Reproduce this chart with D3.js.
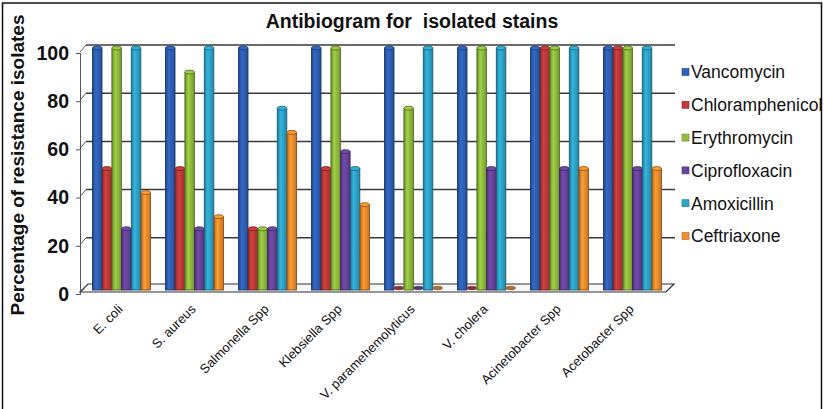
<!DOCTYPE html>
<html>
<head>
<meta charset="utf-8">
<script src="https://cdn.jsdelivr.net/npm/d3@7"></script>
<style>
  html, body { margin: 0; padding: 0; background: #fff; }
  svg { display: block; font-family: "Liberation Sans", Arial, sans-serif; }
</style>
</head>
<body>
<svg id="chart" width="824" height="409"></svg>
<script>
// Isolates and antibiotics tested
const categories = ["E. coli", "S. aureus", "Salmonella Spp", "Klebsiella Spp",
  "V. paramehemolyticus", "V. cholera", "Acinetobacter Spp", "Acetobacter Spp"];
const antibiotics = ["Vancomycin", "Chloramphenicol", "Erythromycin",
  "Ciprofloxacin", "Amoxicillin", "Ceftriaxone"];

// Percentage of resistant isolates, one array per antibiotic (in category order)
const vancomycin      = [100, 100, 100, 100, 100, 100, 100, 100];
const chloramphenicol = [50, 50, 25, 50, 0, 0, 100, 100];
const erythromycin    = [100, 90, 25, 100, 75, 100, 100, 100];
const ciprofloxacin   = [25, 25, 25, 57, 0, 50, 50, 50];
const amoxicillin     = [100, 100, 75, 50, 100, 100, 100, 100];
const ceftriaxone     = [40, 30, 65, 35, 0, 0, 50, 50];
const seriesValues = [vancomycin, chloramphenicol, erythromycin,
  ciprofloxacin, amoxicillin, ceftriaxone];

const yTicks = [0, 20, 40, 60, 80, 100];
const colors = ["#2f62b8", "#c23a3a", "#92bf3e", "#6a45a0", "#2ea6cc", "#f5902e"];

const svg = d3.select("#chart");

// outer frame
svg.append("rect").attr("x", 2.5).attr("y", 3).attr("width", 819).attr("height", 412)
  .attr("fill", "none").attr("stroke", "#111").attr("stroke-width", 1.5);

const x0 = d3.scaleBand().domain(categories).range([85, 669])
  .paddingInner(0.2).paddingOuter(0.1);
const x1 = d3.scaleBand().domain(antibiotics).range([0, x0.bandwidth()]).padding(0.02);
const y = d3.scaleLinear().domain([0, 100]).range([289, 48]);

const defs = svg.append("defs");
colors.forEach((c, i) => {
  const g = defs.append("linearGradient").attr("id", "cyl" + i)
    .attr("x1", "0%").attr("x2", "100%").attr("y1", "0%").attr("y2", "0%");
  const base = d3.color(c);
  g.append("stop").attr("offset", "0%").attr("stop-color", base.darker(0.9));
  g.append("stop").attr("offset", "35%").attr("stop-color", base.brighter(0.25));
  g.append("stop").attr("offset", "100%").attr("stop-color", base.darker(0.6));
});

// floor
const fl = 80, fr = 666, dep = 8;
svg.append("path")
  .attr("d", `M${fl},${y(0) + 3} L${fr},${y(0) + 3} L${fr + dep},${y(0) - 5} L${fl + dep},${y(0) - 5} Z`)
  .attr("fill", "#f4f6f8").attr("stroke", "#333").attr("stroke-width", 1.2);

// back-wall gridlines with left-wall diagonals
const grid = svg.append("g");
yTicks.forEach(v => {
  const gy = y(v) - 3;
  if (v > 0) {
    grid.append("line").attr("x1", fl + dep - 2).attr("x2", fr + dep + 1)
      .attr("y1", gy).attr("y2", gy).attr("stroke", "#3a3a3a").attr("stroke-width", 1.5);
  }
  grid.append("line").attr("x1", fl).attr("y1", gy + 7).attr("x2", fl + dep - 2).attr("y2", gy)
    .attr("stroke", "#555").attr("stroke-width", 1);
});

// y axis
const yAxis = d3.axisLeft(y).tickValues(yTicks).tickSize(4).tickPadding(7);
const ya = svg.append("g").attr("transform", `translate(${fl},5)`).call(yAxis);
ya.select(".domain").attr("stroke", "#555").attr("stroke-width", 1);
ya.selectAll(".tick line").attr("stroke", "#555");
ya.selectAll("text").attr("font-size", 19.5).attr("font-weight", "bold").attr("fill", "#111")
  .attr("font-family", "'Liberation Sans', Arial, sans-serif");

// bars (cylinders)
const groups = svg.append("g").selectAll("g").data(categories).join("g")
  .attr("transform", d => `translate(${x0(d)},0)`);
antibiotics.forEach((ab, si) => {
  const vals = seriesValues[si];
  const bw = x1.bandwidth();
  groups.each(function(cat, ci) {
    const v = vals[ci];
    const g = d3.select(this);
    const bx = x1(ab);
    const top = y(v);
    if (v > 0) {
      g.append("rect").attr("x", bx).attr("y", top).attr("width", bw)
        .attr("height", y(0) - top + 1)
        .attr("fill", `url(#cyl${si})`).attr("stroke", d3.color(colors[si]).darker(1.6))
        .attr("stroke-width", 0.9);
      g.append("ellipse").attr("cx", bx + bw / 2).attr("cy", top).attr("rx", bw / 2).attr("ry", 2)
        .attr("fill", d3.color(colors[si]).brighter(0.2))
        .attr("stroke", d3.color(colors[si]).darker(1.6)).attr("stroke-width", 0.8);
    } else {
      g.append("ellipse").attr("cx", bx + bw / 2).attr("cy", y(0) - 1).attr("rx", bw / 2).attr("ry", 1.8)
        .attr("fill", d3.color(colors[si]).darker(0.8))
        .attr("stroke", d3.color(colors[si]).darker(1.8)).attr("stroke-width", 0.6);
    }
  });
});

// x labels
const xl = svg.append("g");
categories.forEach(c => {
  const cx = x0(c) + x0.bandwidth() / 2 + 2;
  const cy = 310;
  xl.append("text").attr("transform", `translate(${cx},${cy}) rotate(-45)`)
    .attr("text-anchor", "end").attr("font-size", 13).attr("fill", "#111")
    .text(c);
});

// title
svg.append("text").attr("x", 412).attr("y", 28).attr("text-anchor", "middle")
  .attr("font-size", 19.5).attr("font-weight", "bold").attr("fill", "#111")
  .attr("xml:space", "preserve")
  .text("Antibiogram for  isolated stains");

// y title
svg.append("text").attr("transform", "translate(24,165) rotate(-90)")
  .attr("text-anchor", "middle").attr("font-size", 19).attr("font-weight", "bold").attr("fill", "#111")
  .text("Percentage of resistance isolates");

// legend
const leg = svg.append("g").attr("transform", "translate(682,72)");
antibiotics.forEach((ab, i) => {
  const row = leg.append("g").attr("transform", `translate(0,${i * 32.8})`);
  row.append("rect").attr("x", 0).attr("y", -3.5).attr("width", 7).attr("height", 7)
    .attr("fill", colors[i]).attr("stroke", d3.color(colors[i]).darker(1)).attr("stroke-width", 0.6);
  row.append("text").attr("x", 9).attr("y", 0).attr("dy", "0.36em")
    .attr("font-size", 17.5).attr("fill", "#111").text(ab);
});
</script>
</body>
</html>
